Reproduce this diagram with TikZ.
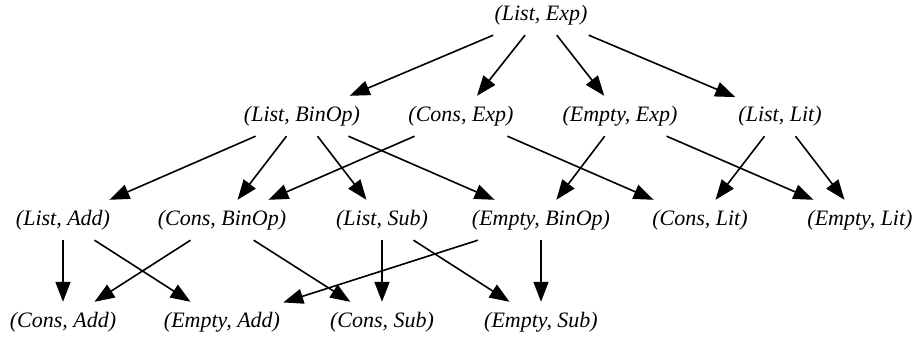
\documentclass[tikz,border=0pt]{standalone}
\usepackage{fontspec}
\setmainfont{Liberation Serif}
\usetikzlibrary{arrows.meta}
\tikzset{
  lbl/.style={rectangle, minimum height=40pt, inner xsep=3pt, inner ysep=0pt,
              font=\fontsize{22}{26}\selectfont\itshape},
  edge/.style={line width=1.6pt, -{Triangle[length=20pt,width=15pt]}}
}
\begin{document}
\begin{tikzpicture}[x=1pt,y=-1pt]
\useasboundingbox (0,0) rectangle (918,340);
% level 0
\node[lbl] (le) at (541,15) {(List, Exp)};
% level 1
\node[lbl] (lb) at (302,116) {(List, BinOp)};
\node[lbl] (ce) at (461,116) {(Cons, Exp)};
\node[lbl] (ee) at (620,116) {(Empty, Exp)};
\node[lbl] (ll) at (780,116) {(List, Lit)};
% level 2
\node[lbl] (la) at (63,220) {(List, Add)};
\node[lbl] (cb) at (222,220) {(Cons, BinOp)};
\node[lbl] (ls) at (382,220) {(List, Sub)};
\node[lbl] (eb) at (541,220) {(Empty, BinOp)};
\node[lbl] (cl) at (700,220) {(Cons, Lit)};
\node[lbl] (el) at (860,220) {(Empty, Lit)};
% level 3
\node[lbl] (ca) at (63,322) {(Cons, Add)};
\node[lbl] (ea) at (222,322) {(Empty, Add)};
\node[lbl] (cs) at (382,322) {(Cons, Sub)};
\node[lbl] (es) at (541,322) {(Empty, Sub)};
% edges
\foreach \s/\t in {le/lb, le/ce, le/ee, le/ll,
                   lb/la, lb/cb, lb/ls, lb/eb,
                   ce/cb, ce/cl,
                   ee/eb, ee/el,
                   ll/cl, ll/el,
                   la/ca, la/ea,
                   cb/ca, cb/cs,
                   ls/cs, ls/es,
                   eb/ea, eb/es}
  \draw[edge] (\s) -- (\t);
\end{tikzpicture}
\end{document}
